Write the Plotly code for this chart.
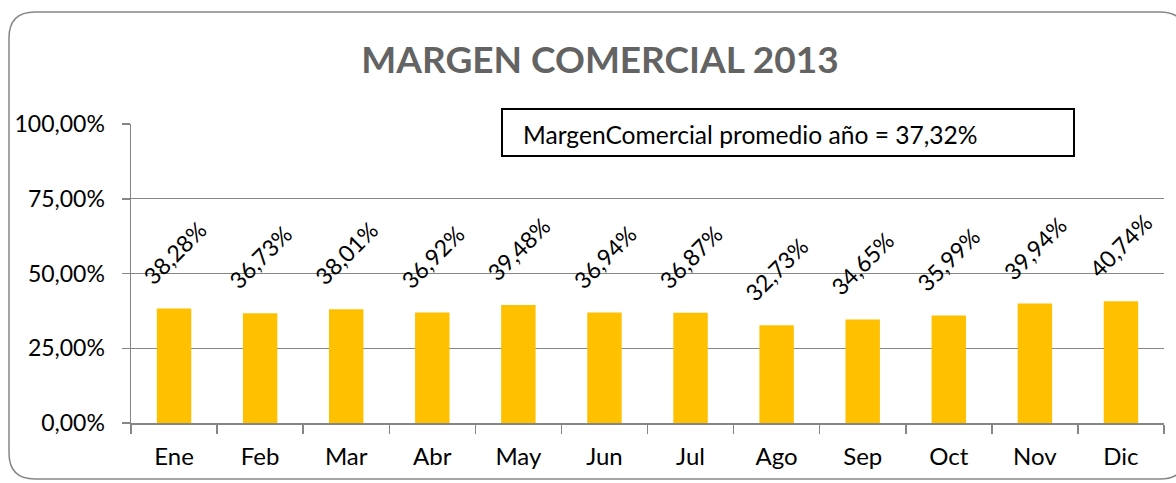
import plotly.graph_objects as go

# ---- data ----
months = ["Ene", "Feb", "Mar", "Abr", "May", "Jun", "Jul", "Ago", "Sep", "Oct", "Nov", "Dic"]
margin_pct = [38.28, 36.73, 38.01, 36.92, 39.48, 36.94, 36.87, 32.73, 34.65, 35.99, 39.94, 40.74]
y_tickvals = [0, 0.25, 0.5, 0.75, 1.0]
y_ticktext = ["0,00%", "25,00%", "50,00%", "75,00%", "100,00%"]
title_text = "MARGEN COMERCIAL 2013"
avg_text = "MargenComercial promedio año = 37,32%"

# ---- layout constants ----
W, H = 1176, 483
L, R, T, B = 131, 12, 124, 60
PW, PH = W - L - R, H - T - B
FONT = "Lato"
GRID = "#868686"
BAR = "#FFC000"


def px_x(px):
    return (px - L) / PW


def px_y(py):
    return (H - B - py) / PH


values = [v / 100 for v in margin_pct]
labels = [f"{v:.2f}".replace(".", ",") + "%" for v in margin_pct]

fig = go.Figure()
fig.add_trace(go.Bar(
    x=months, y=values, marker=dict(color=BAR, line=dict(width=0)),
    hoverinfo="skip", showlegend=False,
))

# rotated data labels above bars
for m, v, t in zip(months, values, labels):
    fig.add_annotation(
        x=m, y=v, xref="x", yref="y", text=t, showarrow=False,
        textangle=-45, xanchor="center", yanchor="middle", yshift=56,
        font=dict(family=FONT, size=23, color="#000000"),
    )

# average text box
fig.add_shape(type="rect", xref="paper", yref="paper",
              x0=px_x(502), x1=px_x(1074), y0=px_y(156), y1=px_y(109),
              line=dict(color="#000000", width=2), fillcolor="white", layer="above")
fig.add_annotation(
    xref="paper", yref="paper", x=px_x(521), y=px_y(134), xanchor="left", yanchor="middle",
    text=avg_text, showarrow=False, font=dict(family=FONT, size=24.6, color="#000000"),
)

# outer rounded border
r = 26
x0p, x1p, y0p, y1p = 9, 1186, 12, 479
path = (
    f"M {px_x(x0p + r)},{px_y(y0p)} L {px_x(x1p - r)},{px_y(y0p)} "
    f"Q {px_x(x1p)},{px_y(y0p)} {px_x(x1p)},{px_y(y0p + r)} "
    f"L {px_x(x1p)},{px_y(y1p - r)} "
    f"Q {px_x(x1p)},{px_y(y1p)} {px_x(x1p - r)},{px_y(y1p)} "
    f"L {px_x(x0p + r)},{px_y(y1p)} "
    f"Q {px_x(x0p)},{px_y(y1p)} {px_x(x0p)},{px_y(y1p - r)} "
    f"L {px_x(x0p)},{px_y(y0p + r)} "
    f"Q {px_x(x0p)},{px_y(y0p)} {px_x(x0p + r)},{px_y(y0p)} Z"
)
fig.add_shape(type="path", xref="paper", yref="paper", path=path,
              line=dict(color=GRID, width=1.5), layer="below")

fig.update_layout(
    width=W, height=H,
    margin=dict(l=L, r=R, t=T, b=B, autoexpand=False),
    paper_bgcolor="white", plot_bgcolor="white",
    bargap=0.6,
    title=dict(text=f"<b>{title_text}</b>", x=600 / W, xanchor="center",
               y=1 - 60 / H, yanchor="middle", xref="container", yref="container",
               font=dict(family=FONT, size=37, color="#636363")),
    font=dict(family=FONT, size=24, color="#000000"),
)
fig.update_yaxes(
    range=[0, 1], tickvals=y_tickvals, ticktext=y_ticktext,
    showgrid=True, gridcolor=GRID, gridwidth=1.2, zeroline=False,
    showline=True, linecolor=GRID, linewidth=1.5,
    ticks="outside", ticklen=8, tickcolor=GRID, tickwidth=1.5,
    ticklabelstandoff=12, tickfont=dict(family=FONT, size=23, color="#000000"),
    fixedrange=True,
)
fig.update_xaxes(
    type="category", showgrid=False, zeroline=False,
    showline=True, linecolor=GRID, linewidth=1.5,
    ticks="outside", tickson="boundaries", ticklen=9, tickcolor=GRID, tickwidth=1.5,
    ticklabelstandoff=12, tickfont=dict(family=FONT, size=24, color="#000000"),
    fixedrange=True,
)

fig.write_html("out.html", config={"displayModeBar": False, "staticPlot": True},
               post_script="document.body.style.margin='0';document.body.style.overflow='hidden';")
